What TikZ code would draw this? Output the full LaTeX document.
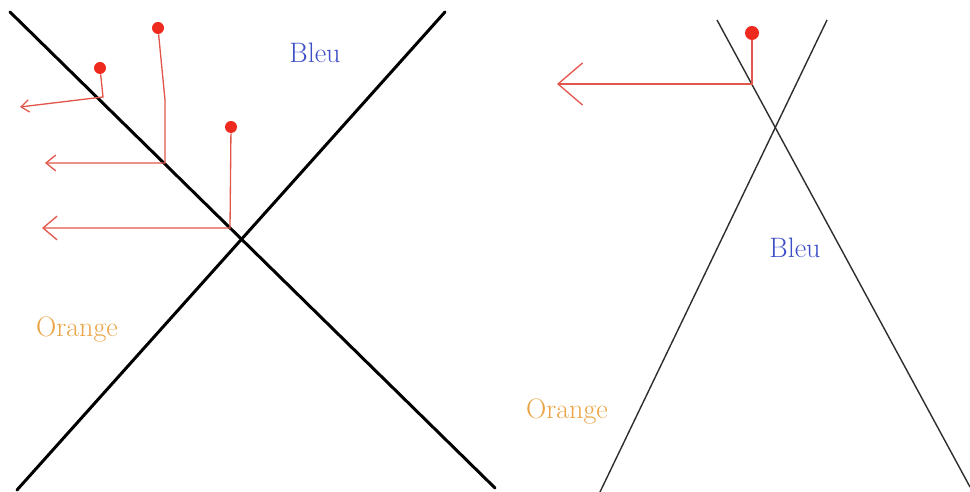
\documentclass[tikz,border=0pt]{standalone}
\usepackage{tikz}
\usetikzlibrary{arrows.meta}
\definecolor{InkRed}{HTML}{EE2A1F}
\definecolor{RayRed}{HTML}{E2564C}
\definecolor{BleuBlue}{HTML}{3D4EC8}
\definecolor{OrangeTxt}{HTML}{EAA445}
\definecolor{ThinInk}{HTML}{2E2E2E}

\begin{document}
\begin{tikzpicture}[
    x=0.02cm, y=-0.02cm,
    thick axe/.style={draw=black,line width=1.7pt,line cap=round},
    thin axe/.style={draw=ThinInk,line width=0.8pt},
    dot/.style={circle,fill=InkRed,inner sep=0pt,minimum size=0.24cm},
    ray/.style={draw=RayRed,line width=0.75pt},
    lbl/.style={font=\fontsize{16}{19}\selectfont}
  ]
  \useasboundingbox (0,0) rectangle (970,492);

  % left panel
  \draw[thick axe] (10,12) -- (495,488);
  \draw[thick axe] (445,12) -- (17,490);
  \node[lbl,text=BleuBlue] (bleuL) at (315,53) {Bleu};
  \node[lbl,text=OrangeTxt] (orangeL) at (77,330) {Orange};

  \node[dot] (pa) at (100,68) {};
  \node[dot] (pb) at (158,28) {};
  \node[dot] (pc) at (231,127) {};
  \coordinate (pa1) at (103,97);
  \coordinate (pa2) at (20,107);
  \coordinate (pb0) at (165,100);
  \coordinate (pb1) at (165,163);
  \coordinate (pb2) at (45,163);
  \coordinate (pc1) at (230,228);
  \coordinate (pc2) at (42,228);
  \draw[ray,-{Straight Barb[length=4.5pt,width=7pt]}] (pa) -- (pa1) -- (pa2);
  \draw[ray,-{Straight Barb[length=5.5pt,width=9pt]}] (pb) -- (pb0) -- (pb1) -- (pb2);
  \draw[ray,-{Straight Barb[length=8pt,width=13.5pt]}] (pc) -- (pc1) -- (pc2);

  % right panel
  \draw[thin axe] (717,20) -- (970,487);
  \draw[thin axe] (827,20) -- (600,492);
  \node[lbl,text=BleuBlue] (bleuR) at (795,248) {Bleu};
  \node[lbl,text=OrangeTxt] (orangeR) at (567,412) {Orange};

  \node[dot,minimum size=0.28cm] (pd) at (752,33) {};
  \coordinate (pd1) at (752,84);
  \coordinate (pd2) at (557,84);
  \draw[ray,-{Straight Barb[length=14pt,width=24pt]}] (pd) -- (pd1) -- (pd2);
\end{tikzpicture}
\end{document}
